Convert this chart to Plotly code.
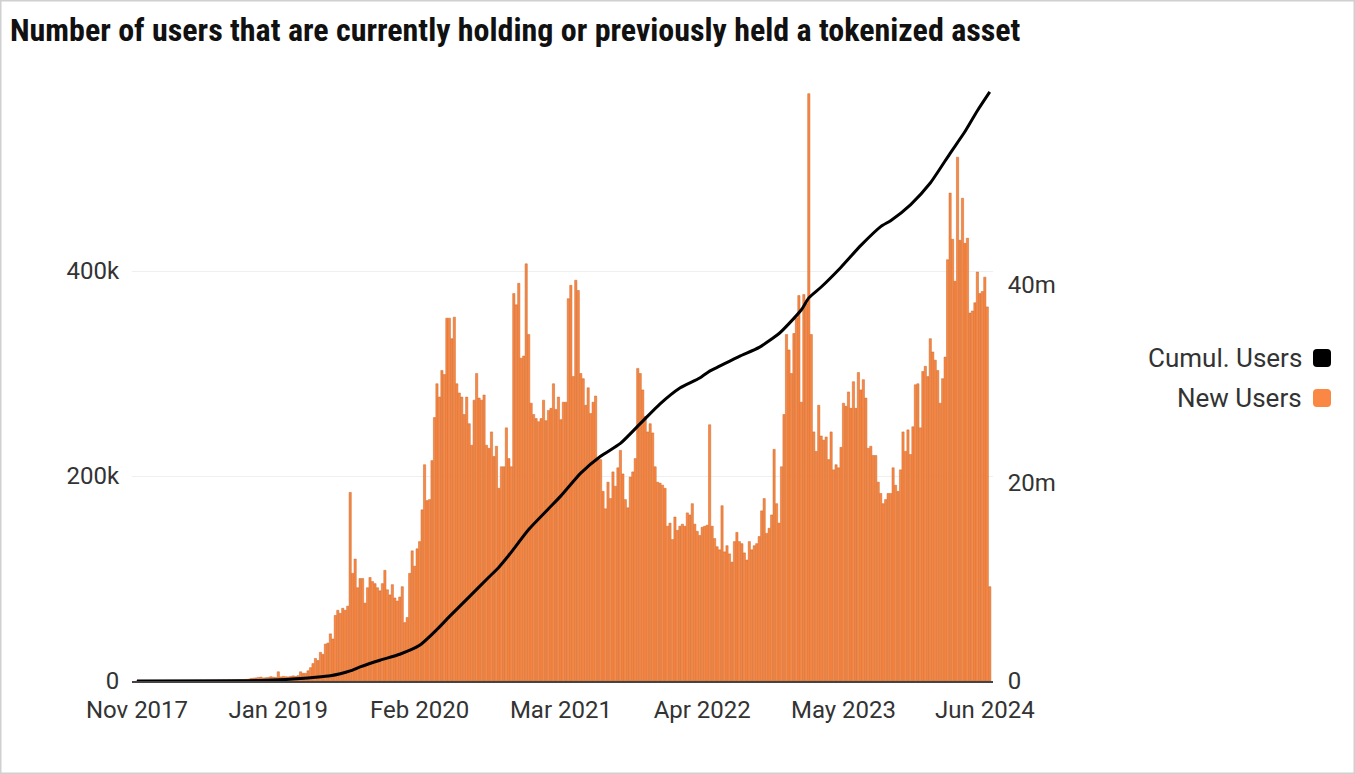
import numpy as np
import pandas as pd
import plotly.graph_objects as go

# ---------------- data ----------------
first_week = "2017-11-27"

# weekly new users, in thousands
new_users_k = [
    0.1, 0.1, 0.2, 0.1, 0.2, 0.2, 0.1, 0.2, 0.3, 0.2,
    0.2, 0.3, 0.2, 0.3, 0.3, 0.4, 0.3, 0.4, 0.3, 0.4,
    0.4, 0.5, 0.4, 0.5, 0.6, 0.5, 0.6, 0.5, 0.7, 0.6,
    0.7, 0.8, 0.7, 0.9, 0.8, 1.0, 0.9, 1.1, 1.0, 1.2,
    1.2, 1.4, 1.3, 1.5, 1.6, 1.8,
    2.5, 2.8, 3.0, 3.5, 3.8, 3.0, 3.2, 3.5, 4.2, 3.8, 3.5,
    9.0,
    4.0, 4.5, 4.2, 4.0, 4.5, 5.0, 4.6, 5.2,
    9, 7.5, 7.5, 10, 13, 17, 22, 20, 28, 26,
    36, 37, 46, 41, 64, 69, 66, 71, 69, 73,
    184, 105, 119, 91, 100, 100, 76, 91, 101, 97,
    95, 91, 88, 95, 108, 89, 84, 94, 81, 78,
    82, 92, 57, 62, 105, 127, 112, 129, 136, 167,
    211, 176, 177, 215, 257, 290, 277, 303, 299, 354,
    354, 334, 355, 290, 281, 277, 260, 277, 251, 230,
    274, 300, 276, 274, 279, 230, 227, 243, 219, 229,
    188, 209, 209, 247, 217, 209, 378, 367, 388, 315,
    317, 407, 338, 271, 260, 256, 253, 256, 274, 254,
    264, 266, 290, 265, 277,
    255, 272, 272, 373, 386, 297, 391, 381, 300, 295,
    269, 286, 261, 272, 278, 216, 216, 185, 168, 194,
    178, 204, 190, 208, 225, 202, 177, 169, 199, 204,
    217, 305, 300, 284, 258, 243, 251, 242, 209, 194,
    193, 191, 188, 151,
    154, 138, 160, 147, 151, 153, 151, 164, 162, 173,
    153, 146, 142, 150, 151, 152, 250, 151, 139, 131,
    128, 171, 126, 132, 124, 116, 136, 145, 136, 134,
    125, 118, 136, 128, 132, 134,
    141, 166, 178, 144, 149, 162, 226, 173, 154, 209,
    260, 338, 323, 300, 339, 354, 376, 272, 377, 368,
    573, 338, 243, 224, 269, 239, 235, 238, 216, 243,
    206, 211, 208, 228, 271, 268, 282, 266, 292, 266,
    301, 284, 294, 276, 227,
    229, 220, 220, 194, 183, 173, 177, 183, 183, 208,
    191, 185, 206, 243, 224, 245, 221, 248, 289, 290,
    247, 302, 307, 297, 334, 321, 313, 303, 271, 295,
    316, 411, 476, 431, 390, 511, 430, 471, 427, 432,
    359, 361, 369, 399, 378, 380, 394, 365, 92,
]

# cumulative users line, read at these week numbers (millions)
cumul_week_no = [0, 40, 50, 60, 66, 72, 78, 82, 86, 90,
                 98, 106, 114, 121, 126, 134, 142, 146, 150, 158,
                 166, 171, 179, 187, 195, 203, 211, 219, 227, 231,
                 235, 243, 251, 259, 263, 268, 271, 276, 284, 292,
                 300, 304, 312, 320, 328, 334, 339, 344]
cumul_users_m = [0.0, 0.02, 0.06, 0.15, 0.25, 0.38, 0.54, 0.74, 1.02, 1.42,
                 2.1, 2.7, 3.6, 5.2, 6.5, 8.5, 10.5, 11.5, 12.7, 15.3,
                 17.4, 18.7, 21.0, 22.7, 24.0, 26.0, 28.0, 29.6, 30.6, 31.3,
                 31.8, 32.8, 33.7, 35.1, 36.1, 37.5, 38.7, 39.8, 41.8, 44.0,
                 45.9, 46.5, 48.1, 50.3, 53.3, 55.5, 57.6, 59.5]

x_tick_labels = ["Nov 2017", "Jan 2019", "Feb 2020", "Mar 2021",
                 "Apr 2022", "May 2023", "Jun 2024"]
x_tick_step_weeks = 57

left_tick_vals = [0, 200_000, 400_000]
left_tick_text = ["0", "200k", "400k"]
right_tick_vals = [0, 20_000_000, 40_000_000]
right_tick_text = ["0", "20m", "40m"]

series_names = ["Cumul. Users", "New Users"]

# ---------------- derived ----------------
weeks = pd.date_range(first_week, periods=len(new_users_k), freq="7D")
new_users = np.array(new_users_k) * 1000.0
cumul_x = weeks[cumul_week_no]
cumul_y = np.array(cumul_users_m) * 1e6
x_tick_vals = list(weeks[::x_tick_step_weeks])[:len(x_tick_labels)]

ORANGE = "#FA8743"
ORANGE_EDGE = "#C9692C"
TEXT = "#333333"
FONT = "Roboto, Noto Sans, sans-serif"

fig = go.Figure()
fig.add_trace(go.Bar(
    x=weeks, y=new_users, name=series_names[1],
    marker=dict(color=ORANGE, line=dict(color=ORANGE_EDGE, width=0.5)),
    width=7 * 86400000 * 0.9,
))
fig.add_trace(go.Scatter(
    x=cumul_x, y=cumul_y, name=series_names[0], yaxis="y2",
    mode="lines", line=dict(color="#000000", width=3, shape="spline", smoothing=0.6),
))

# plot area geometry (pixels)
L, R, T, B = 132, 362, 80, 93
W, H = 1355, 774
PW, PH = W - L - R, H - T - B
px_per_week = 2.479
lead_weeks = 5 / px_per_week
span_weeks = PW / px_per_week
x0 = weeks[0] - pd.Timedelta(weeks=lead_weeks)
x1 = x0 + pd.Timedelta(weeks=span_weeks)


def px(xp):
    return (xp - L) / PW


def py(yp):
    return (H - B - yp) / PH


def rounded_rect(xa, ya, xb, yb, r=3):
    X0, X1 = px(xa), px(xb)
    Y0, Y1 = py(yb), py(ya)
    rx, ry = r / PW, r / PH
    return (f"M {X0+rx},{Y0} L {X1-rx},{Y0} Q {X1},{Y0} {X1},{Y0+ry} "
            f"L {X1},{Y1-ry} Q {X1},{Y1} {X1-rx},{Y1} L {X0+rx},{Y1} "
            f"Q {X0},{Y1} {X0},{Y1-ry} L {X0},{Y0+ry} Q {X0},{Y0} {X0+rx},{Y0} Z")


fig.update_layout(
    width=W, height=H, autosize=False,
    margin=dict(l=L, r=R, t=T, b=B, pad=0),
    paper_bgcolor="white", plot_bgcolor="white",
    showlegend=False,
    bargap=0.1,
    font=dict(family=FONT, color=TEXT, size=22),
    title=dict(
        text="<b>Number of users that are currently holding or previously held a tokenized asset</b>",
        x=10 / W, xref="container", xanchor="left",
        y=1 - 30 / H, yref="container", yanchor="middle",
        font=dict(family="Liberation Sans Narrow, Roboto Condensed, Roboto, sans-serif",
                  size=32, color="#111111"),
    ),
    xaxis=dict(
        type="date", range=[x0, x1],
        tickvals=x_tick_vals, ticktext=x_tick_labels,
        showgrid=False, zeroline=False,
        showline=True, linecolor="#444444", linewidth=1.5,
        ticks="outside", ticklen=6, tickcolor="rgba(0,0,0,0)",
        tickfont=dict(size=24, color=TEXT),
    ),
    yaxis=dict(
        range=[0, (H - T - B) / 1.025 * 1000],
        tickvals=left_tick_vals, ticktext=left_tick_text,
        showgrid=True, gridcolor="#EFEFEF", gridwidth=1,
        zeroline=False, showline=False,
        ticks="outside", ticklen=7, tickcolor="rgba(0,0,0,0)",
        tickfont=dict(size=24, color=TEXT),
    ),
    yaxis2=dict(
        overlaying="y", side="right",
        range=[0, (H - T - B) / 9.9 * 1e6],
        tickvals=right_tick_vals, ticktext=right_tick_text,
        showgrid=False, zeroline=False, showline=False,
        ticks="outside", ticklen=9, tickcolor="rgba(0,0,0,0)",
        tickfont=dict(size=24, color=TEXT),
    ),
)

legend_colors = ["#000000", ORANGE]
legend_y = [358, 398]
shapes = []
for name, col, yc in zip(series_names, legend_colors, legend_y):
    fig.add_annotation(
        text=name, xref="paper", yref="paper",
        x=px(1304), y=py(yc), xanchor="right", yanchor="middle",
        showarrow=False, font=dict(size=26, color=TEXT, family=FONT),
    )
    shapes.append(dict(type="path", xref="paper", yref="paper",
                       path=rounded_rect(1313, yc - 9, 1331, yc + 9, r=4),
                       fillcolor=col, line=dict(width=0)))

shapes.append(dict(type="rect", xref="paper", yref="paper",
                   x0=px(0.75), x1=px(W - 0.75), y0=py(H - 0.75), y1=py(0.75),
                   line=dict(color="#D0D0D0", width=1.5), fillcolor="rgba(0,0,0,0)"))
fig.update_layout(shapes=shapes)

fig.write_html("out.html",
               config={"displayModeBar": False},
               post_script="document.body.style.margin='0';document.body.style.overflow='hidden';")
